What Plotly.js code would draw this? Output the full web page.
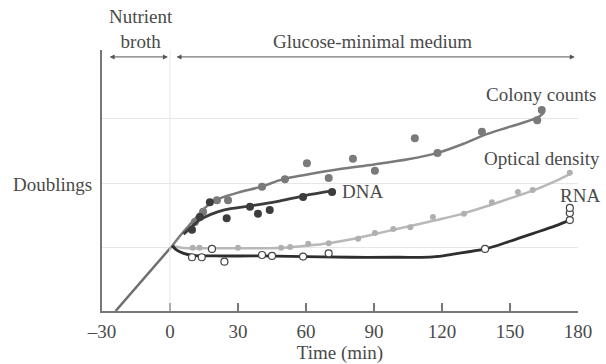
<!DOCTYPE html>
<html>
<head>
<meta charset="utf-8">
<script src="https://cdn.plot.ly/plotly-3.0.1.min.js"></script>
<style>html,body{margin:0;padding:0;background:#fff;}#chart{width:606px;height:364px;}</style>
</head>
<body>
<div id="chart"></div>
<script>
// Nutrient broth growth line (before shift)
var brothT = [-24, 1];
var brothD = [0, 1.02];

// Colony counts
var colonyLineT = [1, 5, 10, 15, 20, 30, 40, 50, 60, 75, 90, 105, 118, 130, 138, 150, 162, 165];
var colonyLineD = [1.02, 1.2, 1.4, 1.6, 1.73, 1.85, 1.94, 2.06, 2.13, 2.22, 2.29, 2.37, 2.47, 2.62, 2.74, 2.88, 3.02, 3.1];
var colonyDotT = [11, 14.6, 20.7, 25.6, 40.6, 50.7, 60.4, 70, 80.7, 90.4, 108, 118, 137.6, 162, 164];
var colonyDotD = [1.39, 1.55, 1.73, 1.73, 1.94, 2.06, 2.31, 2.08, 2.38, 2.19, 2.70, 2.47, 2.80, 2.98, 3.14];

// DNA
var dnaLineT = [6, 10, 13, 18, 24, 35, 47, 59, 72];
var dnaLineD = [1.2, 1.33, 1.42, 1.51, 1.58, 1.64, 1.71, 1.8, 1.88];
var dnaDotT = [9.7, 13.2, 17.6, 25, 35.3, 38.8, 44, 58.7, 71.5];
var dnaDotD = [1.27, 1.47, 1.70, 1.45, 1.63, 1.52, 1.58, 1.78, 1.86];

// Optical density
var odLineT = [1, 5, 10, 20, 30, 40, 50, 60, 70, 80, 90, 100, 110, 120, 130, 140, 150, 160, 170, 176.4];
var odLineD = [1.02, 0.99, 0.98, 0.98, 0.98, 0.98, 0.99, 1.02, 1.06, 1.12, 1.2, 1.28, 1.36, 1.44, 1.53, 1.64, 1.76, 1.88, 2.03, 2.14];
var odDotT = [10, 13, 30, 49, 53, 61, 70, 83, 90.4, 98.5, 106, 116, 129.7, 142, 153.5, 160, 176.4];
var odDotD = [0.99, 0.99, 0.99, 0.99, 1.0, 1.05, 1.06, 1.13, 1.22, 1.28, 1.31, 1.47, 1.52, 1.70, 1.86, 1.89, 2.16];

// RNA
var rnaLineT = [1, 3, 6, 10, 20, 40, 60, 80, 100, 116, 125, 139, 150, 160, 170, 176.4];
var rnaLineD = [1.02, 0.95, 0.9, 0.87, 0.86, 0.86, 0.85, 0.84, 0.84, 0.845, 0.89, 0.97, 1.09, 1.21, 1.33, 1.42];
var rnaDotT = [9.7, 14, 18.5, 24, 40.6, 45, 58.7, 70, 139, 176.4, 176.4, 176.4];
var rnaDotD = [0.84, 0.84, 0.97, 0.77, 0.875, 0.86, 0.85, 0.9, 0.97, 1.42, 1.53, 1.61];

var xTicks = [-30, 0, 30, 60, 90, 120, 150, 180];
var xTickText = ['\u201330', '0', '30', '60', '90', '120', '150', '180'];

var FONT = 'Liberation Serif, Times New Roman, serif';
var TXT = '#4a4a4a';
var FS = 19;

var traces = [
  {x: brothT, y: brothD, mode: 'lines', line: {color: '#6e6e6e', width: 2.5}, hoverinfo: 'none'},
  {x: odLineT, y: odLineD, mode: 'lines', line: {color: '#b8b8b8', width: 2.5, shape: 'spline'}},
  {x: odDotT, y: odDotD, mode: 'markers', marker: {color: '#b0b0b0', size: 6}},
  {x: colonyLineT, y: colonyLineD, mode: 'lines', line: {color: '#7a7a7a', width: 2.5, shape: 'spline'}},
  {x: colonyDotT, y: colonyDotD, mode: 'markers', marker: {color: '#7a7a7a', size: 8}},
  {x: dnaLineT, y: dnaLineD, mode: 'lines', line: {color: '#3c3c3c', width: 2.8, shape: 'spline'}},
  {x: dnaDotT, y: dnaDotD, mode: 'markers', marker: {color: '#3c3c3c', size: 8}},
  {x: rnaLineT, y: rnaLineD, mode: 'lines', line: {color: '#2e2e2e', width: 2.8, shape: 'spline'}},
  {x: rnaDotT, y: rnaDotD, mode: 'markers', marker: {color: '#ffffff', size: 7, line: {color: '#444', width: 1.2}}}
];

var arrowBase = {xref: 'x', yref: 'y', axref: 'x', ayref: 'y', text: '', showarrow: true,
  arrowhead: 2, arrowsize: 1, arrowwidth: 1, arrowcolor: '#555', arrowside: 'end+start', standoff: 0, startstandoff: 0};

var layout = {
  width: 606, height: 364,
  margin: {l: 102, r: 28, t: 50, b: 53},
  paper_bgcolor: '#fff', plot_bgcolor: '#fff',
  showlegend: false,
  font: {family: FONT, color: TXT, size: FS},
  xaxis: {
    range: [-30, 180], tickvals: xTicks, ticktext: xTickText,
    ticks: 'inside', ticklen: 8, tickcolor: '#777', tickwidth: 1.5,
    showline: true, linecolor: '#777', linewidth: 2, showgrid: false, zeroline: false,
    tickfont: {family: FONT, size: FS, color: TXT}, ticklabelstandoff: 2,
    title: {text: 'Time (min)', font: {family: FONT, size: FS, color: TXT}, standoff: 2}
  },
  yaxis: {
    range: [0, 4.078], tickvals: [1, 2, 3], showticklabels: false, ticks: '',
    showline: true, linecolor: '#777', linewidth: 2, showgrid: true, gridcolor: '#e6e6e6', gridwidth: 1, zeroline: false
  },
  shapes: [
    {type: 'line', xref: 'x', yref: 'paper', x0: 0, x1: 0, y0: 0, y1: 1, line: {color: '#e6e6e6', width: 1}}
  ],
  annotations: [
    Object.assign({}, arrowBase, {x: -0.9, y: 3.97, ax: -27.3, ay: 3.97}),
    Object.assign({}, arrowBase, {x: 178.6, y: 3.97, ax: 2.2, ay: 3.97}),
    {xref: 'x', yref: 'paper', x: -12.8, y: 1.08, xanchor: 'center', yanchor: 'middle', text: 'Nutrient<br>broth', showarrow: false, borderpad: 0},
    {xref: 'x', yref: 'paper', x: 89.5, y: 1.034, xanchor: 'center', yanchor: 'middle', text: 'Glucose-minimal medium', showarrow: false},
    {xref: 'x', yref: 'y', x: 163.7, y: 3.39, text: 'Colony counts', showarrow: false},
    {xref: 'x', yref: 'y', x: 164, y: 2.39, text: 'Optical density', showarrow: false},
    {xref: 'x', yref: 'y', x: 75, y: 1.86, xanchor: 'left', text: 'DNA', showarrow: false},
    {xref: 'paper', yref: 'y', x: 1.004, y: 1.8, xanchor: 'center', text: 'RNA', showarrow: false},
    {xref: 'paper', yref: 'paper', x: -0.105, y: 0.483, xanchor: 'center', yanchor: 'middle', text: 'Doublings', showarrow: false}
  ]
};

Plotly.newPlot('chart', traces, layout, {displayModeBar: false, staticPlot: true});
</script>
</body>
</html>
